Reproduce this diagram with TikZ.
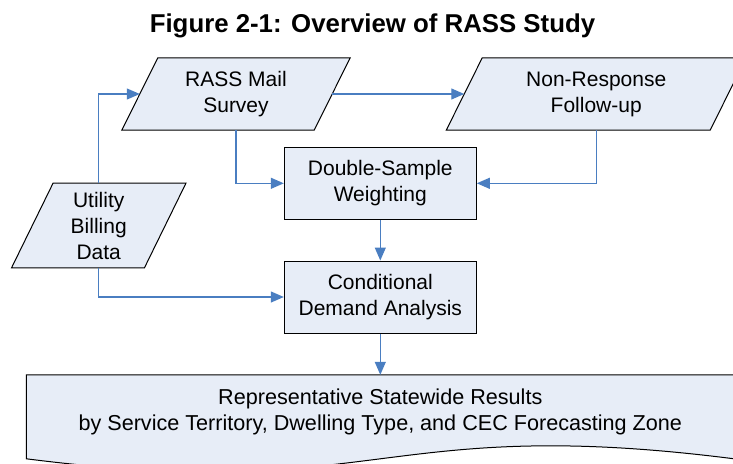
\documentclass[tikz,border=0pt]{standalone}
\usepackage{fontspec}
\setmainfont{Liberation Sans}
\usetikzlibrary{arrows.meta,backgrounds,calc}
\definecolor{boxfill}{RGB}{231,237,247}
\definecolor{linkblue}{RGB}{74,126,193}
\begin{document}
\begin{tikzpicture}[x=1pt,y=-1pt,
  lbl/.style={align=center,inner sep=0pt,font=\fontsize{21}{26}\selectfont},
  procbox/.style={lbl,draw=black,fill=boxfill,line width=1pt,minimum width=192pt,minimum height=72pt},
  iobox/.style={lbl,minimum height=72pt},
  outline/.style={draw=black,fill=boxfill,line width=1pt,line join=miter},
  conn/.style={draw=linkblue,line width=1.2pt,-{Triangle[length=13pt,width=11pt]}}]
\useasboundingbox (0,0) rectangle (733,463);
\node[font=\bfseries\fontsize{25.8}{30}\selectfont,anchor=base,inner sep=0pt] (title) at (372.5,32) {Figure 2-1: Overview of RASS Study};
\node[iobox,minimum width=192pt] (rass) at (236,94) {RASS Mail\\Survey};
\node[iobox,minimum width=263.5pt] (nrf) at (596.2,94) {Non-Response\\Follow-up};
\node[iobox,minimum width=132.5pt,minimum height=84.4pt] (util) at (98.75,225.5) {Utility\\Billing\\Data};
\node[procbox] (dsw) at (380.3,183.3) {Double-Sample\\Weighting};
\node[procbox] (cda) at (380.3,297) {Conditional\\Demand Analysis};
\node[lbl,font=\fontsize{21.6}{26.5}\selectfont,minimum width=707.3pt,minimum height=74pt] (res) at (380.3,412) {Representative Statewide Results\\by Service Territory, Dwelling Type, and CEC Forecasting Zone};
\begin{scope}[on background layer]
\path[outline] ($(rass.north west)+(18,0)$) -- ($(rass.north east)+(18,0)$) -- ($(rass.south east)+(-18,0)$) -- ($(rass.south west)+(-18,0)$) -- cycle;
\path[outline] ($(nrf.north west)+(18,0)$) -- ($(nrf.north east)+(18,0)$) -- ($(nrf.south east)+(-18,0)$) -- ($(nrf.south west)+(-18,0)$) -- cycle;
\path[outline] ($(util.north west)+(20.8,0)$) -- ($(util.north east)+(20.8,0)$) -- ($(util.south east)+(-20.8,0)$) -- ($(util.south west)+(-20.8,0)$) -- cycle;
\path[outline] (res.north west) -- (res.north east) -- ($(res.north east)+(0,84)$) .. controls ($(res.north)+(0,39)$) and ($(res.north)+(0,129)$) .. ($(res.north west)+(0,84)$) -- cycle;
\end{scope}
\draw[conn] (util.north) |- (rass.west);
\draw[conn] (rass.east) -- (nrf.west);
\draw[conn] (rass.south) |- (dsw.west);
\draw[conn] (nrf.south) |- (dsw.east);
\draw[conn] (dsw.south) -- (cda.north);
\draw[conn] (util.south) |- (cda.west);
\draw[conn] (cda.south) -- (res.north);
\end{tikzpicture}
\end{document}
